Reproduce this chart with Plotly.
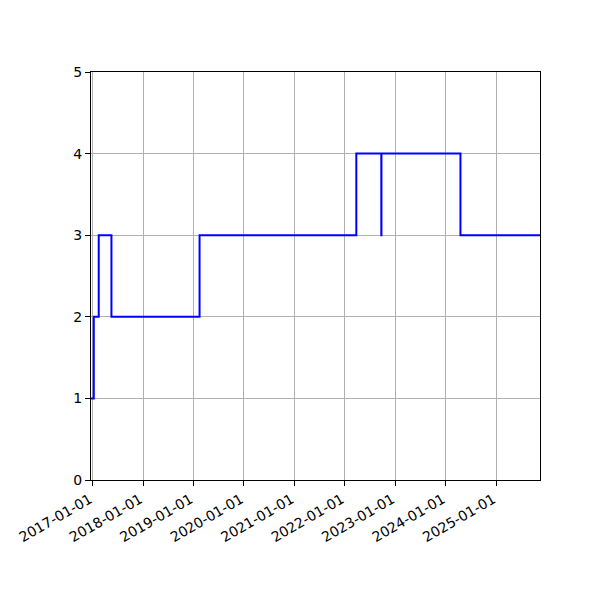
import plotly.graph_objects as go

dates = ["2016-12-20", "2017-01-09", "2017-02-14", "2017-05-17", "2019-02-14",
         "2022-03-25", "2022-09-22", "2022-09-23", "2024-04-17", "2025-11-14"]
values = [1, 2, 3, 2, 3, 4, 3, 4, 3, 3]

tick_dates = ["2017-01-01", "2018-01-01", "2019-01-01", "2020-01-01", "2021-01-01",
              "2022-01-01", "2023-01-01", "2024-01-01", "2025-01-01"]
y_ticks = [0, 1, 2, 3, 4, 5]

fig = go.Figure()
fig.add_trace(go.Scatter(x=dates, y=values, mode="lines", line_shape="hv",
                         line=dict(color="#0000ff", width=2), showlegend=False))

axis_common = dict(showline=True, linecolor="black", linewidth=1, mirror=True,
                   showgrid=True, gridcolor="#b0b0b0", gridwidth=1,
                   ticks="outside", ticklen=5, tickcolor="black", zeroline=False,
                   automargin=False,
                   tickfont=dict(family="DejaVu Sans", size=14, color="black"))

fig.update_xaxes(type="date", range=["2016-12-20", "2025-11-14"],
                 tickvals=tick_dates, ticktext=tick_dates, tickangle=-30,
                 ticklabelshift=-3, **axis_common)
fig.update_yaxes(range=[0, 5], tickvals=y_ticks, **axis_common)

fig.update_layout(width=600, height=600, plot_bgcolor="white", paper_bgcolor="white",
                  margin=dict(l=83, r=68, t=64, b=128))

fig.write_html("out.html")
